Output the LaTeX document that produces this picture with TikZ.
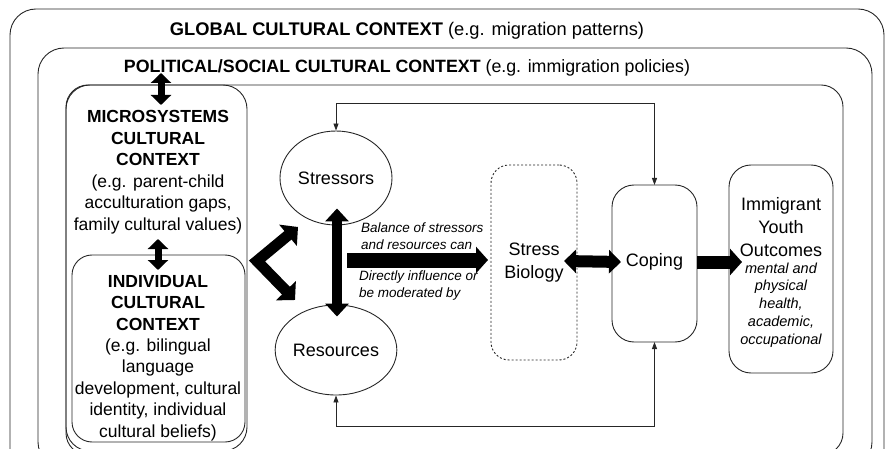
\documentclass[tikz,border=0pt]{standalone}
\usepackage{fontspec}
\setmainfont{Liberation Sans}
\usetikzlibrary{shapes.geometric,arrows.meta}
\newcommand\myfs[2]{\fontsize{#1}{#2}\selectfont}
\begin{document}
\begin{tikzpicture}[x=1pt,y=-1pt,
  frame/.style={draw=black!85,line width=0.9pt,rounded corners=#1,anchor=north west,inner sep=0pt,outer sep=0pt},
  frame/.default=24pt,
  bubble/.style={ellipse,draw=black!85,line width=0.9pt,inner sep=0pt,font=\myfs{18}{22}},
  txt/.style={inner sep=0pt,align=center},
  lbl/.style={inner sep=0pt,align=left,anchor=west,font=\myfs{13.5}{17}\itshape},
  thin/.style={draw=black!85,line width=0.9pt,-{Triangle[length=7pt,width=5pt]}},
  midarrow/.style={line width=7pt,{Triangle[length=10pt,width=20pt]}-{Triangle[length=10pt,width=20pt]}},
  vdarrow/.style={line width=10pt,{Triangle[length=13pt,width=23pt]}-{Triangle[length=13pt,width=23pt]}},
  bigarrow/.style={line width=#1,-{Triangle[length=12pt,width=26pt]}},
  ddarrow/.style={line width=12pt,{Triangle[length=12pt,width=23pt]}-{Triangle[length=12pt,width=23pt]}}
]
\useasboundingbox (0,0) rectangle (886,449);
\clip (0,0) rectangle (886,449);
% nested context frames
\node[frame=26pt,minimum width=874pt,minimum height=466pt] (glob) at (10,9) {};
\node[frame=26pt,minimum width=834pt,minimum height=420pt] (pol) at (38,48) {};
\node[frame=22pt,minimum width=777pt,minimum height=370pt] (ctx) at (66,85) {};
\node[frame=24pt,minimum width=181pt,minimum height=366pt] (micro) at (66,85) {};
\node[frame=20pt,minimum width=173pt,minimum height=187pt] (indiv) at (72,255) {};
% titles
\node[inner sep=0pt,anchor=base,font=\myfs{18.3}{22}] (globT) at (407,36) {\textbf{GLOBAL CULTURAL CONTEXT} (e.g. migration patterns)};
\node[inner sep=0pt,anchor=base,font=\myfs{17.8}{22}] (polT) at (407,73) {\textbf{POLITICAL/SOCIAL CULTURAL CONTEXT} (e.g. immigration policies)};
% left column texts
\node[txt,font=\myfs{17.5}{21.5}] (microT) at (158,172) {\textbf{MICROSYSTEMS}\\\textbf{CULTURAL}\\\textbf{CONTEXT}\\(e.g. parent-child\\acculturation gaps,\\family cultural values)};
\node[txt,font=\myfs{17.5}{21.4}] (indivT) at (158,358) {\textbf{INDIVIDUAL}\\\textbf{CULTURAL}\\\textbf{CONTEXT}\\(e.g. bilingual\\language\\development, cultural\\identity, individual\\cultural beliefs)};
% stressors / resources
\node[bubble,minimum width=112pt,minimum height=94pt] (st) at (336,178) {Stressors};
\node[bubble,minimum width=108pt,minimum height=90pt] (res) at (336,350) {Resources};
% stress biology, coping, outcomes
\node[frame=18pt,dash pattern=on 2pt off 2pt,minimum width=86pt,minimum height=195pt] (sb) at (491,165) {};
\node[txt,font=\myfs{18}{23}] (sbT) at (sb.center) {Stress\\Biology};
\node[frame=22pt,minimum width=85pt,minimum height=157pt] (cop) at (612,185) {};
\node[txt,font=\myfs{18}{22}] (copT) at ([yshift=1.5pt]cop.center) {Coping};
\node[frame=22pt,minimum width=104pt,minimum height=208pt] (out) at (729,165) {};
\node[txt,font=\myfs{18}{23}] (outT) at (781,227) {Immigrant\\Youth\\Outcomes};
\node[txt,font=\myfs{14.5}{17.8}\itshape] (outD) at (781,305) {mental and\\physical\\health,\\academic,\\occupational};
% arrow labels
\node[lbl] (lblA) at (361,236) {Balance of stressors\\and resources can};
\node[lbl] (lblB) at (359,286) {Directly influence or\\be moderated by};
% thick arrows
\draw[midarrow] ([xshift=4.5pt,yshift=12pt]micro.north) -- ([xshift=4.5pt,yshift=-20pt]micro.north);
\draw[midarrow] ([xshift=-0.5pt,yshift=16pt]indiv.north) -- ([xshift=-0.5pt,yshift=-15pt]indiv.north);
\coordinate (chv) at (257,261);
\coordinate (chvA) at (298,227);
\coordinate (chvB) at (295,300);
\draw[line width=11pt,line join=miter,{Triangle[length=13pt,width=27pt]}-{Triangle[length=13pt,width=27pt]}] (chvA) -- (chv) -- (chvB);
\draw[vdarrow] ([xshift=1pt,yshift=17pt]st.south) -- ([xshift=1pt,yshift=-12pt]res.north);
\draw[bigarrow=15pt] (347,260) -- ([xshift=-3pt,yshift=2.5pt]sb.west);
\draw[ddarrow] ([xshift=-13pt,yshift=1.5pt]sb.east) -- ([xshift=9pt,yshift=1.5pt]cop.west);
\draw[bigarrow=13pt] ([yshift=1.5pt]cop.east) -- ([xshift=13pt,yshift=7pt]out.west);
% feedback loops
\coordinate (fbT) at (654.5,103);
\coordinate (fbB) at (654.5,426);
\draw[thin] (fbT) -- (fbT -| st.north) -- (st.north);
\draw[thin] (fbT) -- (cop.north);
\draw[thin] (fbB) -- (fbB -| res.south) -- (res.south);
\draw[thin] (fbB) -- (cop.south);
\end{tikzpicture}
\end{document}
